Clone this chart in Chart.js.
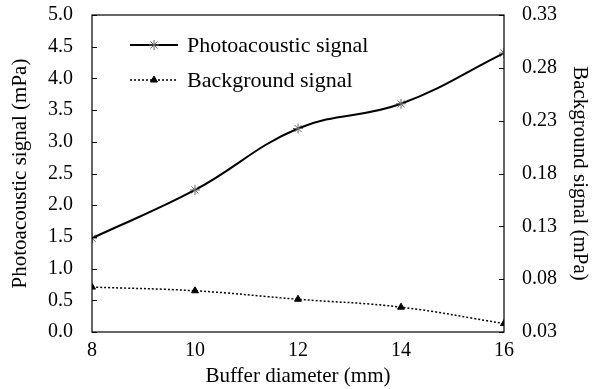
<!DOCTYPE html>
<html>
<head>
<meta charset="utf-8">
<script src="https://cdn.jsdelivr.net/npm/chart.js@4/dist/chart.umd.min.js"></script>
<style>
html,body{margin:0;padding:0;background:#fff;}
#wrap{width:597px;height:389px;position:relative;}
</style>
</head>
<body>
<div id="wrap"><canvas id="c" width="597" height="389"></canvas></div>
<script>
const diameters = [8, 10, 12, 14, 16];
const photoacoustic = [1.48, 2.24, 3.21, 3.6, 4.4];
const background = [0.0725, 0.069, 0.061, 0.0535, 0.038];
const leftTicks = [0, 0.5, 1, 1.5, 2, 2.5, 3, 3.5, 4, 4.5, 5];
const rightTicks = [0.03, 0.08, 0.13, 0.18, 0.23, 0.28, 0.33];
const seriesNames = ['Photoacoustic signal', 'Background signal'];
const xTitle = 'Buffer diameter (mm)';
const yTitle = 'Photoacoustic signal (mPa)';
const y2Title = 'Background signal (mPa)';

const FONT = '"Liberation Serif", "Times New Roman", serif';

const framePlugin = {
  id: 'frame',
  afterDatasetsDraw(chart) {
    const {ctx, chartArea: a, scales} = chart;
    ctx.save();
    ctx.strokeStyle = '#000';
    ctx.lineWidth = 1.2;
    ctx.strokeRect(a.left, a.top, a.right - a.left, a.bottom - a.top);
    ctx.lineWidth = 1;
    leftTicks.forEach(v => {
      const y = Math.round(scales.y.getPixelForValue(v)) + 0.5;
      ctx.beginPath(); ctx.moveTo(a.left, y); ctx.lineTo(a.left + 5, y); ctx.stroke();
    });
    rightTicks.forEach(v => {
      const y = Math.round(scales.y2.getPixelForValue(v)) + 0.5;
      ctx.beginPath(); ctx.moveTo(a.right, y); ctx.lineTo(a.right - 5, y); ctx.stroke();
    });
    // legend
    const ds = chart.data.datasets;
    const rows = [45, 80];
    ctx.font = '22px ' + FONT;
    ctx.textBaseline = 'middle';
    ctx.fillStyle = '#000';
    ds.forEach((d, i) => {
      const y = rows[i];
      ctx.save();
      ctx.lineWidth = d.borderWidth;
      ctx.setLineDash(d.borderDash || []);
      ctx.beginPath(); ctx.moveTo(130, y); ctx.lineTo(178, y); ctx.stroke();
      ctx.restore();
      ctx.save();
      ctx.strokeStyle = d.pointBorderColor;
      ctx.fillStyle = d.pointBackgroundColor || '#000';
      Chart.helpers.drawPoint(ctx, {pointStyle: d.pointStyle, radius: d.pointRadius, borderWidth: 1}, 154, y);
      ctx.restore();
      ctx.fillText(d.label, 187, y + 1);
    });
    ctx.restore();
  }
};

function fixVertical(width) {
  return function (s) { s.width = width; s.paddingTop = 0; s.paddingBottom = 0; };
}

new Chart(document.getElementById('c'), {
  type: 'line',
  data: {
    labels: diameters,
    datasets: [
      {
        label: seriesNames[0],
        data: photoacoustic,
        yAxisID: 'y',
        borderColor: '#000',
        backgroundColor: '#555',
        borderWidth: 2,
        tension: 0.4,
        pointStyle: 'star',
        pointRadius: 5,
        pointBorderColor: '#666',
        pointBackgroundColor: '#666',
        pointBorderWidth: 1,
        fill: false
      },
      {
        label: seriesNames[1],
        data: background,
        yAxisID: 'y2',
        borderColor: '#000',
        backgroundColor: '#000',
        borderWidth: 1.5,
        borderDash: [2, 2],
        tension: 0.4,
        pointStyle: 'triangle',
        pointRadius: 4,
        pointBorderColor: '#000',
        pointBackgroundColor: '#000',
        pointBorderWidth: 1,
        fill: false
      }
    ]
  },
  options: {
    responsive: false,
    animation: false,
    layout: {padding: {top: 15, left: 0, right: 0, bottom: 0}},
    plugins: {legend: {display: false}, tooltip: {enabled: false}},
    scales: {
      x: {
        type: 'linear',
        min: 8, max: 16,
        afterBuildTicks(s) { s.ticks = diameters.filter(v => v % 2 === 0).map(v => ({value: v})); },
        grid: {display: false, drawTicks: false},
        border: {display: false},
        ticks: {color: '#000', font: {family: FONT, size: 20}, padding: 7, maxRotation: 0},
        title: {display: true, text: xTitle, color: '#000', font: {family: FONT, size: 21}, padding: {top: 0, bottom: 0}},
        afterFit(s) { s.height = 57; s.paddingLeft = 0; s.paddingRight = 0; }
      },
      y: {
        position: 'left',
        min: 0, max: 5,
        afterBuildTicks(s) { s.ticks = leftTicks.map(v => ({value: v})); },
        grid: {display: false, drawTicks: false},
        border: {display: false},
        ticks: {color: '#000', font: {family: FONT, size: 20}, padding: 19, callback: v => v.toFixed(1)},
        title: {display: true, text: yTitle, color: '#000', font: {family: FONT, size: 21}, padding: {top: 8, bottom: 0}},
        afterFit: fixVertical(92)
      },
      y2: {
        position: 'right',
        min: 0.03, max: 0.33,
        afterBuildTicks(s) { s.ticks = rightTicks.map(v => ({value: v})); },
        grid: {display: false, drawTicks: false},
        border: {display: false},
        ticks: {color: '#000', font: {family: FONT, size: 20}, padding: 18, callback: v => v.toFixed(2)},
        title: {display: true, text: y2Title, color: '#000', font: {family: FONT, size: 21}, padding: {top: 5, bottom: 0}},
        afterFit: fixVertical(93)
      }
    }
  },
  plugins: [framePlugin]
});
</script>
</body>
</html>
